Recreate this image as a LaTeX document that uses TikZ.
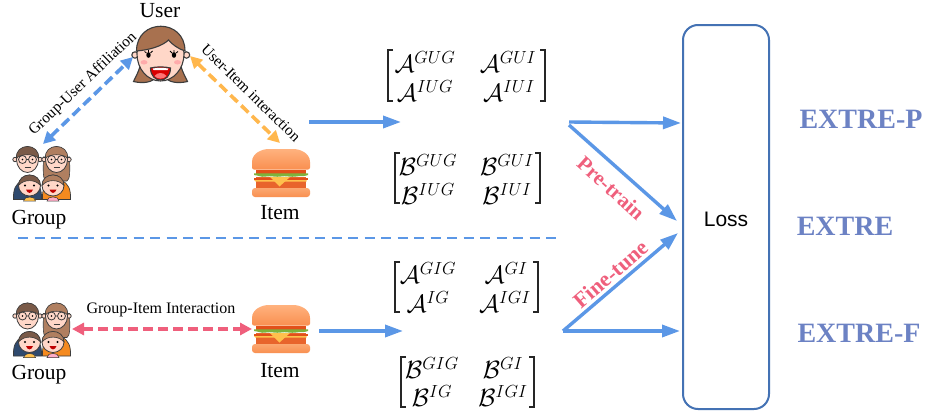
\documentclass[tikz,border=0pt]{standalone}
\usepackage{fix-cm}
\usepackage{amsmath}
\usepackage{fontspec}
\setmainfont{Liberation Serif}
\newfontfamily\arialf{Liberation Sans}
\usetikzlibrary{arrows.meta}
\definecolor{blueA}{HTML}{5B97E6}
\definecolor{orangeA}{HTML}{FFB74D}
\definecolor{redA}{HTML}{EF5F7C}
\definecolor{boxB}{HTML}{4472B4}
\definecolor{extreC}{HTML}{6C82C4}
\definecolor{outl}{HTML}{3C3C3C}
\definecolor{hairB}{HTML}{A8714F}
\definecolor{hairD}{HTML}{7A5A48}
\definecolor{hairM}{HTML}{B07F60}
\definecolor{skin}{HTML}{FFD7C8}
\definecolor{navy}{HTML}{2F4A6E}
\definecolor{momO}{HTML}{F58A1F}
\definecolor{bunT}{HTML}{FFB27E}
\definecolor{bunM}{HTML}{F98F50}
\definecolor{strip}{HTML}{E2501A}
\definecolor{lett}{HTML}{7DB33C}
\definecolor{patty}{HTML}{E8642C}
\definecolor{chee}{HTML}{FFC04D}
\definecolor{bunL}{HTML}{FBA871}
\colorlet{hairX}{hairD}
\tikzset{
  x=1pt,y=-1pt,
  lab/.style={font=\fontsize{21.5}{24}\selectfont,inner sep=0pt},
  edgelab/.style={font=\fontsize{#1}{18}\selectfont,inner sep=0pt},
  phase/.style={font=\fontsize{#1}{24}\selectfont\bfseries,text=redA,inner sep=0pt},
  extre/.style={font=\fontsize{28}{30}\selectfont\bfseries,text=extreC,inner sep=0pt},
  ent/.style={font=\fontsize{25}{28}\selectfont,inner sep=0pt},
  brk/.style={draw=black!85,line width=1.3pt},
  dbl/.style={line width=3.6pt,dash pattern=on 10pt off 5pt,{Triangle[length=12pt,width=12pt]}-{Triangle[length=12pt,width=12pt]}},
  flow/.style={blueA,line width=3.4pt,-{Triangle[length=18pt,width=12pt]}},
  kid/.pic={
    \fill[#1,draw=outl,line width=.5pt] (-6,15.5) .. controls (-6,10) and (6,10) .. (6,15.5) -- cycle;
    \fill[skin,draw=outl,line width=.8pt] (0,0) circle[x radius=11,y radius=10.5];
    \fill[hairX,draw=outl,line width=.6pt] (-11,0) .. controls (-11,-14) and (11,-14) .. (11,0) .. controls (6,-6) and (-5,-7) .. (-11,0) -- cycle;
    \fill[black] (-4.5,0) circle (1.2) (4.5,0) circle (1.2);
    \fill[red!75!black] (-3.5,4) .. controls (-2,8.5) and (2,8.5) .. (3.5,4) -- cycle;
  },
  adult/.pic={
    \fill[#1,draw=outl,line width=.7pt] (-14,40) .. controls (-14.5,30) and (-12,24) .. (-5,21) -- (5,21) .. controls (12,24) and (14.5,30) .. (14,40) -- cycle;
    \fill[skin,draw=outl,line width=.8pt] (-12.5,0) circle (2.2) (12.5,0) circle (2.2);
    \fill[skin,draw=outl,line width=.8pt] (0,0) circle[x radius=11,y radius=13];
    \fill[hairX,draw=outl,line width=.6pt] (-11,-1) .. controls (-13,-17) and (13,-17) .. (11,-1) .. controls (8,-6) and (-8,-6) .. (-11,-1) -- cycle;
    \draw[outl,line width=.8pt] (-5,0) circle (4) (5,0) circle (4) (-1,0) -- (1,0);
    \fill[black] (-5,0) circle (.9) (5,0) circle (.9);
    \draw[outl,line width=.8pt] (-3,8) -- (3,8);
  },
  groupicon/.pic={
    \path (-14.5,-13.5) pic {adult={navy}};
    \fill[hairM,draw=outl,line width=.6pt] (1.5,-16) .. controls (1,0) and (1,6) .. (4,8) -- (25,8) .. controls (28,6) and (28,0) .. (27.5,-16) -- cycle;
    \begin{scope}
      \colorlet{hairX}{hairM}
      \path (14.5,-13.5) pic {adult={momO}};
    \end{scope}
    \path (-12.5,12.5) pic {kid={chee}};
    \begin{scope}
      \colorlet{hairX}{hairM}
      \path (11,12.5) pic {kid={pink!90!magenta}};
    \end{scope}
  },
  burger/.pic={
    \shade[top color=bunT,bottom color=bunM,rounded corners=2pt]
      (-29,-3.5) -- (-29,-9) .. controls (-29,-20) and (-19,-24) .. (-10,-24) -- (10,-24) .. controls (19,-24) and (29,-20) .. (29,-9) -- (29,-3.5) -- cycle;
    \fill[strip] (-25,-3.5) rectangle (25,0.5);
    \fill[lett] (-27,.3) -- (27,.3) -- (27,2) .. controls (22,4) and (20,2.5) .. (15,3.5) .. controls (10,4.5) and (5,2.5) .. (0,3.5) .. controls (-5,4.5) and (-10,2.5) .. (-15,3.5) .. controls (-20,4.5) and (-22,2.5) .. (-27,2) -- cycle;
    \fill[patty] (-25,3.5) rectangle (25,14.5);
    \fill[strip] (-27,5) rectangle (27,7);
    \fill[chee] (-27,7) -- (25.5,7) -- (25.5,8.5) -- (-25.5,8.5) -- cycle;
    \fill[chee] (-11,4) -- (9,4) -- (-1.5,13.5) -- cycle;
    \shade[top color=bunL,bottom color=bunM,rounded corners=3pt] (-29,15) rectangle (29,24);
  },
  usericon/.pic={
    \fill[hairB,draw=outl,line width=1.1pt] (-20,5) .. controls (-22,16) and (-26,22) .. (-28,26.5) .. controls (-18,29) and (-8,27) .. (-6,22) -- (4,22) .. controls (6,27) and (16,29) .. (26,26.5) .. controls (24,22) and (20,16) .. (18,5) -- cycle;
    \fill[skin,draw=outl,line width=1.1pt] (-26.5,0) circle (3.2) (25,0) circle (3.2);
    \fill[skin,draw=outl,line width=1.1pt] (-1,-1) circle[x radius=23.5,y radius=27];
    \fill[hairB,draw=outl,line width=1.1pt] (-25,-4) .. controls (-25,-37) and (23.5,-37) .. (23.5,-4) .. controls (17,-6) and (10,-11) .. (7,-15) .. controls (1,-9) and (-12,-5) .. (-25,-4) -- cycle;
    \fill[pink!60!red!60!white] (-17.5,7.3) circle[x radius=3.5,y radius=2.2] (16,7.3) circle[x radius=3.5,y radius=2.2];
    \fill[black] (-13,0) circle[x radius=2.2,y radius=2.8] (12.5,0) circle[x radius=2.2,y radius=2.8];
    \draw[black,line width=.8pt] (-15,-2) -- (-17,-3.5) (-13,-2.5) -- (-13,-5) (-11,-2) -- (-9,-4) (10.5,-2) -- (8.5,-4) (12.5,-2.5) -- (12.5,-5) (14.5,-2) -- (16.5,-3.5);
    \fill[red!85!black,draw=outl,line width=1.1pt] (-11,13) .. controls (-5,11.5) and (3,11.5) .. (9,13) .. controls (9,21) and (4,25) .. (-1,25) .. controls (-6,25) and (-11,21) .. (-11,13) -- cycle;
    \fill[pink!60!red] (-7,21) .. controls (-4,17) and (2,17) .. (5,21) .. controls (2,24.5) and (-4,24.5) .. (-7,21) -- cycle;
    \fill[white] (-9,13.6) .. controls (-4,12.6) and (2,12.6) .. (7,13.6) -- (6,15) -- (-8,15) -- cycle;
  }
}
\newcommand{\brkt}[4]{%
  \draw[brk] (#1+5,#3) -- (#1,#3) -- (#1,#4) -- (#1+5,#4);
  \draw[brk] (#2-5,#3) -- (#2,#3) -- (#2,#4) -- (#2-5,#4);}
\begin{document}
\begin{tikzpicture}
\useasboundingbox (0,0) rectangle (926,415);
\fill[white] (0,0) rectangle (926,415);

% icons
\path (161.5,55) pic {usericon};
\path (42,173) pic {groupicon};
\path (281,173) pic {burger};
\path (42,329.5) pic {groupicon};
\path (281,329) pic {burger};

% labels
\node[lab] (userlab) at (160,11) {User};
\node[lab] (grouplab) at (39,220) {Group};
\node[lab] (itemlab) at (280,213) {Item};
\node[lab] (grouplabb) at (39,375) {Group};
\node[lab] (itemlabb) at (280,371) {Item};

% relation arrows
\coordinate (gtop) at (43,144);
\coordinate (uleft) at (133,57);
\coordinate (uright) at (190,56);
\coordinate (itop) at (280,143);
\coordinate (gright) at (72,329);
\coordinate (ileft) at (252,329);
\draw[dbl,blueA] (gtop) -- (uleft);
\draw[dbl,orangeA] (uright) -- (itop);
\draw[dbl,redA] (gright) -- (ileft);
\node[edgelab=15.4,rotate=43.6] (gulab) at (83,84) {Group-User Affiliation};
\node[edgelab=15.4,rotate=-44.5] (uilab) at (251,93) {User-Item interaction};
\node[edgelab=16] (gilab) at (161,310) {Group-Item Interaction};

% separator
\coordinate (sepl) at (18,238);
\coordinate (sepr) at (560,238);
\draw[blueA,line width=1.8pt,dash pattern=on 10pt off 6.5pt] (sepl) -- (sepr);

% matrices
\brkt{388}{545}{50}{101}
\node[ent] (a11) at (425,62) {$\mathcal{A}^{GUG}$};
\node[ent] (a12) at (508,62) {$\mathcal{A}^{GUI}$};
\node[ent] (a21) at (425,91) {$\mathcal{A}^{IUG}$};
\node[ent] (a22) at (509,91) {$\mathcal{A}^{IUI}$};
\brkt{395}{540}{153}{203}
\node[ent] (b11) at (428,165) {$\mathcal{B}^{GUG}$};
\node[ent] (b12) at (507,165) {$\mathcal{B}^{GUI}$};
\node[ent] (b21) at (428,194) {$\mathcal{B}^{IUG}$};
\node[ent] (b22) at (507,194) {$\mathcal{B}^{IUI}$};
\brkt{395}{538}{262}{312}
\node[ent] (c11) at (428,273) {$\mathcal{A}^{GIG}$};
\node[ent] (c12) at (506,273) {$\mathcal{A}^{GI}$};
\node[ent] (c21) at (428,302) {$\mathcal{A}^{IG}$};
\node[ent] (c22) at (505,302) {$\mathcal{A}^{IGI}$};
\brkt{401}{534}{357}{407}
\node[ent] (d11) at (432,368) {$\mathcal{B}^{GIG}$};
\node[ent] (d12) at (503,368) {$\mathcal{B}^{GI}$};
\node[ent] (d21) at (432,396) {$\mathcal{B}^{IG}$};
\node[ent] (d22) at (503,396) {$\mathcal{B}^{IGI}$};

% loss box
\node[draw=boxB,line width=2pt,rounded corners=15pt,minimum width=86pt,minimum height=384pt,inner sep=0pt] (loss) at (726,217) {};
\node[font=\arialf\fontsize{21}{24}\selectfont,inner sep=0pt] (losslab) at (726,219) {Loss};

% flow arrows
\coordinate (fa1) at (309,122);
\coordinate (fa2) at (401,122);
\coordinate (fb1) at (319,331);
\coordinate (fb2) at (403,331);
\coordinate (pa) at (569,122);
\coordinate (pb) at (569,125);
\coordinate (pe1) at (681,123);
\coordinate (pe2) at (677,221);
\coordinate (fc) at (563,331);
\coordinate (fe1) at (678,233);
\coordinate (fe2) at (680,331);
\draw[flow] (fa1) -- (fa2);
\draw[flow] (fb1) -- (fb2);
\draw[flow] (pa) -- (pe1);
\draw[flow] (pb) -- (pe2);
\draw[flow] (fc) -- (fe1);
\draw[flow] (fc) -- (fe2);
\node[phase=21,rotate=-42] (pre) at (611,188) {Pre-train};
\node[phase=22,rotate=41] (fine) at (611,274) {Fine-tune};

% results
\node[extre] (ep) at (861,119) {EXTRE-P};
\node[extre] (e) at (845,226) {EXTRE};
\node[extre] (ef) at (859,333) {EXTRE-F};
\end{tikzpicture}
\end{document}
